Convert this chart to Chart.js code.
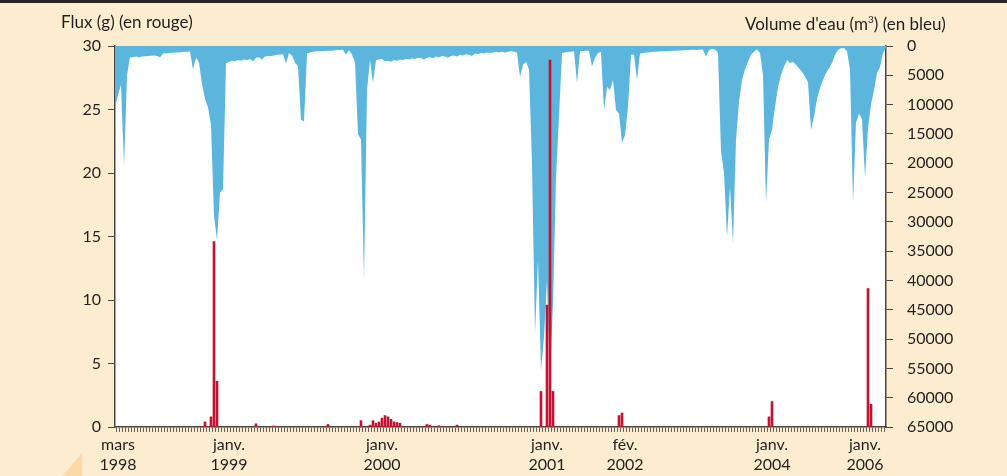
<!DOCTYPE html>
<html>
<head>
<meta charset="utf-8">
<script src="https://cdn.jsdelivr.net/npm/chart.js@4/dist/chart.umd.min.js"></script>
<style>
  html, body { margin:0; padding:0; background:#fdedd0; }
  #wrap { position:relative; width:1007px; height:476px; overflow:hidden; background:#fdedd0; font-family: Lato, "Noto Sans", sans-serif; color:#231f20; }
  #c { position:absolute; left:0; top:0; }
  #topbar { position:absolute; left:0; top:0; width:1007px; height:3px; background:#2a2522; }
  #tri { position:absolute; left:0; top:0; width:1007px; height:476px; background:#fcd9a6; clip-path: polygon(82px 453px, 82px 476px, 62px 476px); }
  .ttl { position:absolute; font-size:17px; white-space:nowrap; line-height:1; }
  #tl { left:61px; top:13px; }
  #tr { left:745px; top:15px; }
  sup { font-size:10px; vertical-align: 7px; line-height:0; }
</style>
</head>
<body>
<div id="wrap">
  <div id="tri"></div>
  <canvas id="c" width="1007" height="476"></canvas>
  <div id="topbar"></div>
  <div class="ttl" id="tl">Flux (g) (en rouge)</div>
  <div class="ttl" id="tr">Volume d'eau (m<sup>3</sup>) (en bleu)</div>
</div>
<script>
// Sample index positions of the labelled x ticks and their labels
const tickIdx = [1, 38, 89, 144, 170, 219, 250];
const tickText = [["mars","1998"],["janv.","1999"],["janv.","2000"],["janv.","2001"],["fév.","2002"],["janv.","2004"],["janv.","2006"]];

// Volume d'eau (m3), one value per sample (258 samples)
const volume = [
  10400, 8400, 6600, 20500, 5000, 1900, 1900, 1800, 1900, 1800,
  1750, 1700, 1650, 1600, 1700, 1900, 1300, 1250, 1200, 1150,
  1100, 1100, 1050, 1000, 1000, 950, 4000, 2000, 2800, 6500,
  9000, 10500, 13500, 29000, 33100, 25000, 24500, 3000, 2700, 2500,
  2600, 2400, 2500, 2300, 2400, 2200, 2600, 2000, 1900, 2300,
  1800, 1700, 1700, 1600, 1500, 1450, 1400, 3000, 1200, 1600,
  2800, 3500, 12600, 12900, 1300, 1100, 1000, 900, 900, 850,
  850, 800, 800, 750, 700, 700, 650, 1500, 700, 1500,
  2800, 15000, 16000, 39900, 7500, 2400, 6300, 2400, 2300, 2200,
  2600, 2500, 2700, 2400, 2500, 2300, 2400, 2200, 2300, 2100,
  2200, 2000, 2100, 2300, 2000, 1900, 2100, 1800, 1900, 1700,
  1800, 2000, 1700, 1600, 1800, 1500, 1600, 1400, 1500, 1700,
  1300, 1400, 1200, 1300, 1100, 1200, 1100, 1000, 1100, 1000,
  1100, 1000, 900, 1000, 1100, 5300, 3200, 2700, 4000, 20000,
  49000, 36500, 55300, 49600, 40000, 57000, 43800, 22500, 12000, 1200,
  1100, 1000, 1000, 900, 6300, 900, 850, 800, 800, 3500,
  2000, 1200, 1000, 10900, 7000, 7500, 5800, 10900, 11500, 16500,
  15200, 10400, 1500, 1500, 5800, 1300, 1200, 1100, 1100, 1000,
  1000, 950, 900, 900, 850, 850, 800, 800, 750, 750,
  700, 700, 650, 650, 700, 600, 650, 1800, 700, 500,
  600, 1200, 18000, 21600, 32600, 24000, 33600, 16000, 9500, 5800,
  4000, 2700, 1500, 1000, 600, 1200, 5000, 26800, 16000, 14300,
  10400, 7000, 5000, 3500, 2400, 2900, 2700, 3200, 3800, 4400,
  5200, 6200, 14300, 12100, 9000, 7200, 5800, 4600, 3800, 2900,
  1500, 700, 400, 340, 900, 4000, 26800, 13000, 11500, 12500,
  22400, 14000, 10000, 7500, 4600, 3600, 1200, 300
];

// Flux (g): sample index of each bar and its value
const fluxIdx = [30, 32, 33, 34, 47, 53, 71, 82, 85, 86, 87, 88, 89, 90, 91, 92, 93, 94, 95, 104, 105, 108, 114, 142, 144, 145, 146, 168, 169, 218, 219, 251, 252];
const fluxVal = [0.4, 0.8, 14.6, 3.6, 0.25, 0.08, 0.2, 0.5, 0.15, 0.5, 0.3, 0.4, 0.7, 0.9, 0.8, 0.6, 0.4, 0.35, 0.3, 0.2, 0.15, 0.1, 0.15, 2.8, 9.6, 28.9, 2.8, 0.9, 1.1, 0.8, 2.0, 10.9, 1.8];

const labels = volume.map((_, i) => {
  const k = tickIdx.indexOf(i);
  return k >= 0 ? tickText[k] : "";
});
const flux = volume.map(() => null);
fluxIdx.forEach((idx, k) => { flux[idx] = fluxVal[k]; });

const FONT = { family: "Lato, 'Noto Sans', sans-serif", size: 16 };
const INK = "#231f20";
const AXIS = "#4a4440";

const whiteArea = {
  id: 'whiteArea',
  beforeDraw(chart) {
    const { ctx, chartArea: a } = chart;
    ctx.save();
    ctx.fillStyle = '#ffffff';
    ctx.fillRect(a.left, a.top, a.right - a.left, a.bottom - a.top);
    ctx.restore();
  }
};

new Chart(document.getElementById('c'), {
  type: 'bar',
  data: {
    labels: labels,
    datasets: [
      {
        type: 'bar',
        label: 'Flux (g)',
        data: flux,
        yAxisID: 'yL',
        backgroundColor: '#c41230',
        barThickness: 2,
        order: 0
      },
      {
        type: 'line',
        label: "Volume d'eau",
        data: volume,
        yAxisID: 'yR',
        borderWidth: 0,
        borderColor: 'rgba(0,0,0,0)',
        backgroundColor: '#5cb5dd',
        fill: 'origin',
        pointRadius: 0,
        tension: 0,
        order: 1
      }
    ]
  },
  options: {
    responsive: false,
    animation: false,
    devicePixelRatio: 1,
    layout: { padding: { left: 0, right: 0, top: 46, bottom: 0 } },
    plugins: { legend: { display: false }, tooltip: { enabled: false } },
    scales: {
      x: {
        type: 'category',
        offset: false,
        grid: { display: true, drawOnChartArea: false, drawTicks: true, tickLength: 5, color: '#6d625a', lineWidth: 1 },
        border: { display: true, color: AXIS, width: 1.5 },
        ticks: { autoSkip: false, maxRotation: 0, minRotation: 0, padding: 2, color: INK, font: { ...FONT, lineHeight: 1.3 } },
        afterFit(s) { s.height = 49; }
      },
      yL: {
        type: 'linear',
        position: 'left',
        min: 0, max: 30,
        grid: { drawOnChartArea: false, tickLength: 7, color: AXIS },
        border: { display: true, color: AXIS, width: 1.5 },
        ticks: { stepSize: 5, padding: 7, color: INK, font: FONT, callback: v => String(v) },
        afterFit(s) { s.width = 115; }
      },
      yR: {
        type: 'linear',
        position: 'right',
        reverse: true,
        min: 0, max: 65000,
        grid: { drawOnChartArea: false, tickLength: 7, color: AXIS },
        border: { display: true, color: AXIS, width: 1.5 },
        ticks: { stepSize: 5000, padding: 14, color: INK, font: FONT, callback: v => String(v) },
        afterFit(s) { s.width = 121; }
      }
    }
  },
  plugins: [whiteArea]
});
</script>
</body>
</html>
